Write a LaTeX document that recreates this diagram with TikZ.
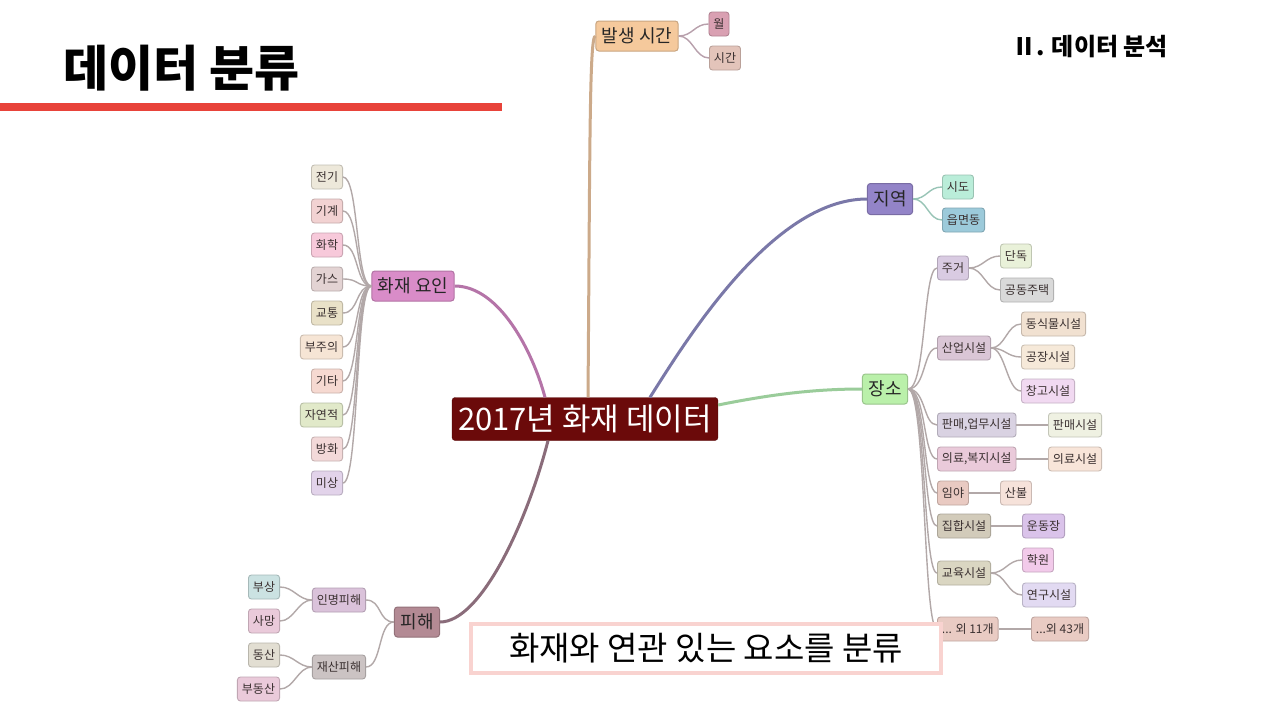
\documentclass[tikz,border=0pt]{standalone}
\usepackage{fontspec}
\setmainfont{Noto Sans CJK KR}
\definecolor{txt}{HTML}{3A3030}
\definecolor{redline}{HTML}{E8433A}
\definecolor{capb}{HTML}{F9D3D0}
\definecolor{cdark}{HTML}{6B0A0A}
\definecolor{fTime}{HTML}{F5C99C}
\definecolor{fMon}{HTML}{D9A0B2}
\definecolor{fHour}{HTML}{E3C4BA}
\definecolor{fCause}{HTML}{D98CC8}
\definecolor{fReg}{HTML}{9384C8}
\definecolor{fPlace}{HTML}{BAF0AA}
\definecolor{fDam}{HTML}{B38A94}
\definecolor{lA}{HTML}{EDE8DA}
\definecolor{lB}{HTML}{F2D2D2}
\definecolor{lC}{HTML}{F7C9DA}
\definecolor{lD}{HTML}{E3D3D3}
\definecolor{lE}{HTML}{E9E1C8}
\definecolor{lF}{HTML}{F6E5D5}
\definecolor{lG}{HTML}{F6D9D1}
\definecolor{lH}{HTML}{E1E9C9}
\definecolor{lI}{HTML}{F3D9D9}
\definecolor{lJ}{HTML}{E2D3EA}
\definecolor{rA}{HTML}{BAEDD9}
\definecolor{rB}{HTML}{9CCADA}
\definecolor{pA}{HTML}{D9CBE2}
\definecolor{pB}{HTML}{E9F1D9}
\definecolor{pC}{HTML}{D9D9D9}
\definecolor{pD}{HTML}{DAC6D6}
\definecolor{pE}{HTML}{F1E1D1}
\definecolor{pF}{HTML}{F6E9D9}
\definecolor{pG}{HTML}{F1D9F1}
\definecolor{pH}{HTML}{D9D2E2}
\definecolor{pI}{HTML}{EFF1E2}
\definecolor{pJ}{HTML}{EACADA}
\definecolor{pK}{HTML}{F8E5D9}
\definecolor{pL}{HTML}{E9CAC2}
\definecolor{pM}{HTML}{F6E2DA}
\definecolor{pN}{HTML}{D2CBBA}
\definecolor{pO}{HTML}{DAC3EA}
\definecolor{pP}{HTML}{DAD6C2}
\definecolor{pQ}{HTML}{F2CAEA}
\definecolor{pR}{HTML}{E2DAF2}
\definecolor{pS}{HTML}{E9CBC3}
\definecolor{dA}{HTML}{DAC2DA}
\definecolor{dB}{HTML}{CBC3C3}
\definecolor{dC}{HTML}{CBE2E2}
\definecolor{dD}{HTML}{EACADA}
\definecolor{dE}{HTML}{E2DED2}
\definecolor{kCause}{HTML}{B574A8}
\definecolor{kTime}{HTML}{CCAA8A}
\definecolor{kReg}{HTML}{7A78A8}
\definecolor{kPlace}{HTML}{9ACC9A}
\definecolor{kDam}{HTML}{8A6C7A}
\definecolor{kGray}{HTML}{B2A8A8}
\definecolor{kTeal}{HTML}{98C4B6}
\definecolor{kPink}{HTML}{B8A0AC}
\tikzset{
  box/.style={rounded corners=3pt, line width=0.9pt, inner xsep=4.5pt, inner ysep=0pt,
    minimum height=24pt, font=\fontsize{12}{12}\selectfont, text=txt},
  leaf/.style={box, fill=#1, draw=#1!82!black},
  lvl/.style={rounded corners=3pt, line width=1pt, inner xsep=6pt, inner ysep=0pt,
    minimum height=30pt, font=\fontsize{18}{18}\selectfont, text=black!85, fill=#1, draw=#1!82!black},
  conn/.style={line width=1.4pt, draw=#1},
  main/.style={line width=3pt, draw=#1}
}
\begin{document}
\begin{tikzpicture}[x=1pt,y=-1pt]
\useasboundingbox (0,0) rectangle (1280,720);
\fill[white] (0,0) rectangle (1280,720);
% title
\node[font=\fontsize{49}{49}\selectfont\bfseries, anchor=west, inner sep=0pt] (title) at (63,68) {데이터 분류};
\fill[redline] (0,103) rectangle (502,111);
\node[font=\fontsize{24}{24}\selectfont\bfseries, anchor=west, inner sep=0pt] (sec) at (1012,47) {Ⅱ. 데이터 분석};
% center
\node[rounded corners=3pt, fill=cdark, draw=cdark!80!black, text=white, inner xsep=6pt, inner ysep=0pt,
  minimum height=43pt, font=\fontsize{31}{31}\selectfont] (c) at (585,419) {2017년 화재 데이터};
% level 1
\node[lvl=fTime] (time) at (637,36) {발생 시간};
\node[lvl=fCause] (cause) at (413,286) {화재 요인};
\node[lvl=fReg, minimum height=31pt] (region) at (890,199) {지역};
\node[lvl=fPlace] (place) at (885,389) {장소};
\node[lvl=fDam] (damage) at (417,622) {피해};
% main connectors
\draw[main=kTime] ([xshift=3pt]c.north) .. controls +(2,-250) and +(-6,0) .. (time.west);
\draw[main=kCause] ([xshift=-40pt]c.north) .. controls +(-12,-45) and +(45,0) .. (cause.east);
\draw[main=kReg] ([xshift=65pt]c.north) .. controls +(35,-55) and +(-95,0) .. (region.west);
\draw[main=kPlace] ([yshift=14pt]c.east) .. controls +(50,-10) and +(-50,0) .. (place.west);
\draw[main=kDam] ([xshift=-37pt]c.south) .. controls +(-22,85) and +(40,0) .. (damage.east);
% time children
\node[leaf=fMon] (mon) at (719,24) {월};
\node[leaf=fHour] (hour) at (725,58) {시간};
\draw[conn=kPink] (time.east) .. controls +(14,0) and +(-14,0) .. (mon.west);
\draw[conn=kPink] (time.east) .. controls +(14,0) and +(-14,0) .. (hour.west);
% cause children
\foreach \t/\y/\col [count=\i] in {전기/177/lA, 기계/211/lB, 화학/245/lC, 가스/279/lD, 교통/313/lE, 부주의/347/lF, 기타/381/lG, 자연적/415/lH, 방화/449/lI, 미상/483/lJ}{
  \node[leaf=\col, anchor=east] (l\i) at (343,\y) {\t};
  \draw[conn=kGray] (cause.west) .. controls +(-16,0) and +(16,0) .. (l\i.east);
}
% region children
\node[leaf=rA, anchor=west] (sido) at (942,187) {시도};
\node[leaf=rB, anchor=west] (emd) at (942,220) {읍면동};
\draw[conn=kTeal] (region.east) .. controls +(14,0) and +(-14,0) .. (sido.west);
\draw[conn=kTeal] (region.east) .. controls +(14,0) and +(-14,0) .. (emd.west);
% place children
\foreach \t/\y/\col/\nm in {주거/268/pA/p1, 산업시설/348/pD/p2, {판매,업무시설}/425/pH/p3, {의료,복지시설}/459/pJ/p4, 임야/493/pL/p5, 집합시설/526/pN/p6, 교육시설/573/pP/p7, {... 외 11개}/629/pS/p8}{
  \node[leaf=\col, anchor=west] (\nm) at (937,\y) {\t};
  \draw[conn=kGray] (place.east) .. controls +(18,0) and +(-14,0) .. (\nm.west);
}
\foreach \t/\x/\y/\col/\pp/\nm in {단독/1000/256/pB/p1/q1, 공동주택/1000/290/pC/p1/q2, 동식물시설/1021/324/pE/p2/q3, 공장시설/1021/357/pF/p2/q4, 창고시설/1021/391/pG/p2/q5, 판매시설/1048/425/pI/p3/q6, 의료시설/1048/459/pK/p4/q7, 산불/1000/493/pM/p5/q8, 운동장/1022/526/pO/p6/q9, 학원/1022/560/pQ/p7/q10, 연구시설/1022/595/pR/p7/q11, {...외 43개}/1031/629/pS/p8/q12}{
  \node[leaf=\col, anchor=west] (\nm) at (\x,\y) {\t};
  \draw[conn=kGray] (\pp.east) .. controls +(14,0) and +(-14,0) .. (\nm.west);
}
% damage children
\node[leaf=dA, anchor=east] (hum) at (366,600) {인명피해};
\node[leaf=dB, anchor=east] (prop) at (366,667) {재산피해};
\draw[conn=kGray] (damage.west) .. controls +(-16,0) and +(16,0) .. (hum.east);
\draw[conn=kGray] (damage.west) .. controls +(-16,0) and +(16,0) .. (prop.east);
\node[leaf=dC, anchor=east] (inj) at (280,587) {부상};
\node[leaf=dD, anchor=east] (death) at (280,621) {사망};
\node[leaf=dE, anchor=east] (mov) at (280,655) {동산};
\node[leaf=dD, anchor=east] (immov) at (280,689) {부동산};
\draw[conn=kGray] (hum.west) .. controls +(-14,0) and +(14,0) .. (inj.east);
\draw[conn=kGray] (hum.west) .. controls +(-14,0) and +(14,0) .. (death.east);
\draw[conn=kGray] (prop.west) .. controls +(-14,0) and +(14,0) .. (mov.east);
\draw[conn=kGray] (prop.west) .. controls +(-14,0) and +(14,0) .. (immov.east);
% caption
\node[draw=capb, line width=4pt, fill=white, minimum width=470pt, minimum height=49pt, inner sep=0pt,
  font=\fontsize{33}{33}\selectfont] (cap) at (706,648) {화재와 연관 있는 요소를 분류};
\end{tikzpicture}
\end{document}
